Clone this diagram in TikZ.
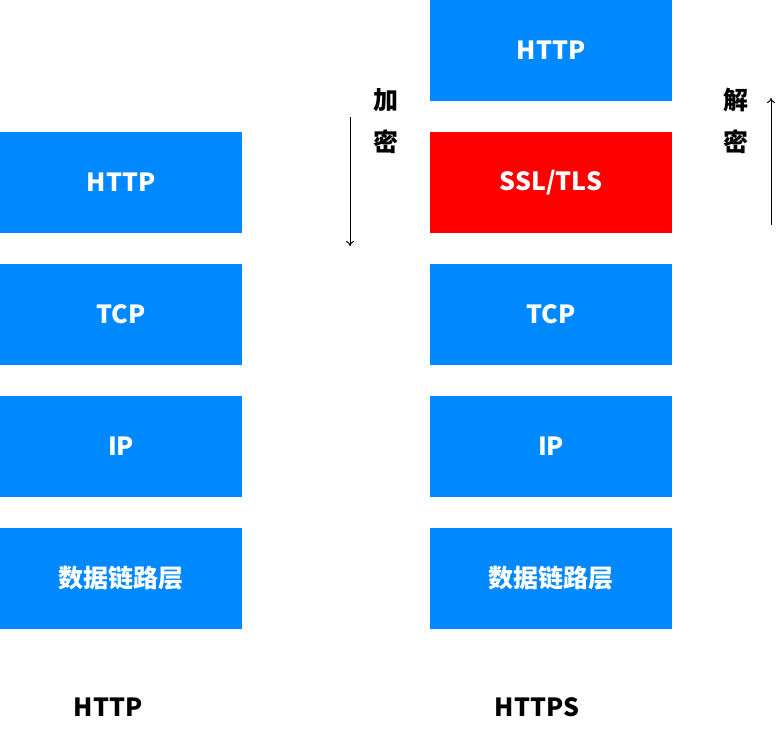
\documentclass[tikz,border=0pt]{standalone}
\usepackage{fontspec}
\setmainfont{Noto Sans CJK SC}
\usetikzlibrary{arrows.meta}
\definecolor{layerblue}{RGB}{0,136,255}
\definecolor{layerred}{RGB}{255,0,0}
\tikzset{every picture/.style={line width=1pt}}
\begin{document}
\begin{tikzpicture}[x=1pt,y=1pt,yscale=-1,
  layer/.style={fill=layerblue,draw=none,minimum width=242pt,minimum height=101pt,inner sep=0pt,
    text=white,font=\fontsize{25}{30}\selectfont\bfseries},
  caption/.style={font=\fontsize{25}{30}\selectfont\bfseries},
  vtext/.style={font=\fontsize{25}{42}\selectfont\bfseries,align=center}]
\useasboundingbox (0,0) rectangle (778,732);
% left stack
\node [layer] (lhttp) at (121,182.5) {HTTP};
\node [layer] (ltcp) at (121,314.5) {TCP};
\node [layer] (lip) at (121,446.5) {IP};
\node [layer] (llink) at (121,578.5) {数据链路层};
\node [caption] (lcap) at (108,707) {HTTP};
% right stack
\node [layer] (rhttp) at (551,50.5) {HTTP};
\node [layer,fill=layerred] (rssl) at (551,182.5) {SSL/TLS};
\node [layer] (rtcp) at (551,314.5) {TCP};
\node [layer] (rip) at (551,446.5) {IP};
\node [layer] (rlink) at (551,578.5) {数据链路层};
\node [caption] (rcap) at (537,707) {HTTPS};
% arrows
\coordinate (enctop) at (350,117);
\coordinate (encbot) at (350,246);
\draw [-{To[length=5pt,width=8pt]}] (enctop) -- (encbot);
\node [vtext] (enc) at (386,121) {加\\密};
\coordinate (decbot) at (771,225);
\coordinate (dectop) at (771,98);
\draw [-{To[length=5pt,width=8pt]}] (decbot) -- (dectop);
\node [vtext] (dec) at (736,121) {解\\密};
\end{tikzpicture}
\end{document}
